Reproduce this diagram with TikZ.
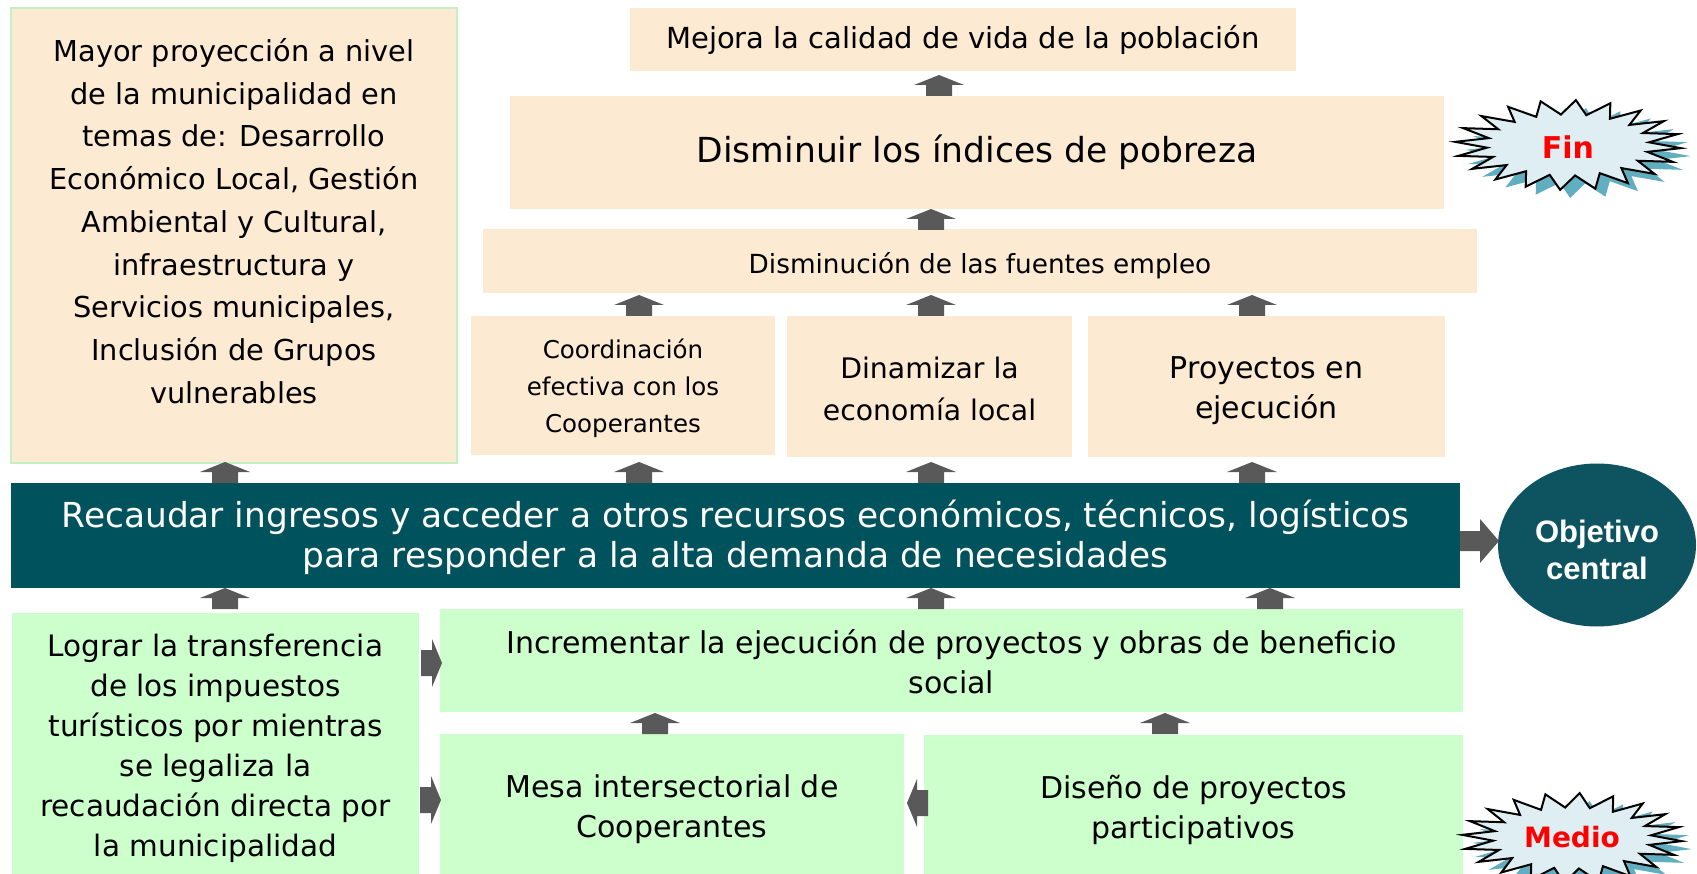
\documentclass[tikz,border=0pt]{standalone}
\usepackage{fontspec}
\setmainfont{DejaVu Sans}
\newfontfamily\arialf{Liberation Sans}
\newfontfamily\dejavu{DejaVu Sans}
\usetikzlibrary{calc,shapes.geometric}
\definecolor{peach}{RGB}{253,234,211}
\definecolor{mint}{RGB}{204,255,204}
\definecolor{mintline}{RGB}{196,240,196}
\definecolor{tealband}{RGB}{0,82,92}
\definecolor{tealoval}{RGB}{14,84,96}
\definecolor{arrowgray}{RGB}{89,89,89}
\definecolor{starfill}{RGB}{222,238,242}
\definecolor{starshadow}{RGB}{96,174,192}
\newcommand{\fs}[2]{\fontsize{#1}{#2}\selectfont}
\tikzset{
  box/.style={inner sep=0pt, outer sep=0pt, align=center, text=black},
  peachbox/.style={box, fill=peach},
  greenbox/.style={box, fill=mint},
  txt/.style={inner sep=0pt, align=center},
  uparr/.pic={\fill[arrowgray] (0,0) -- (25,10) -- (13,10) -- (13,21) -- (-13,21) -- (-13,10) -- (-25,10) -- cycle;},
  rightarr/.pic={\fill[arrowgray] (0,0) -- (-10,-24) -- (-10,-13) -- (-21,-13) -- (-21,13) -- (-10,13) -- (-10,24) -- cycle;},
  leftarr/.pic={\fill[arrowgray] (0,0) -- (10,-24) -- (10,-13) -- (21,-13) -- (21,13) -- (10,13) -- (10,24) -- cycle;},
  bigrightarr/.pic={\fill[arrowgray] (0,0) -- (-19,-22) -- (-19,-10) -- (-39,-10) -- (-39,10) -- (-19,10) -- (-19,22) -- cycle;},
}
\begin{document}
\begin{tikzpicture}[x=1pt,y=-1pt]
\useasboundingbox (0,0) rectangle (1697,874);
\fill[white] (0,0) rectangle (1697,874);

% ---- upper (peach) boxes ----
\node[peachbox, draw=mintline, line width=2pt, minimum width=446pt, minimum height=455pt] (mayor) at (234,235.5) {};
\node[txt, font=\fs{28.8}{42.7}] (mayortxt) at ([yshift=14.5pt]mayor.center) {Mayor proyección a nivel\\ de la municipalidad en\\ temas de: Desarrollo\\ Económico Local, Gestión\\ Ambiental y Cultural,\\ infraestructura y\\ Servicios municipales,\\ Inclusión de Grupos\\ vulnerables};

\node[peachbox, font=\fs{29}{36}, minimum width=666pt, minimum height=63pt] (mejora) at (963,39.5) {Mejora la calidad de vida de la población};
\node[peachbox, font=\fs{34.5}{42}, minimum width=934pt, minimum height=113pt] (pobreza) at (977,152.5) {Disminuir los índices de pobreza};
\node[peachbox, minimum width=994pt, minimum height=64pt] (empleo) at (980,261) {};
\node[txt, font=\fs{26.3}{34}] (empleotxt) at ([yshift=-5pt]empleo.center) {Disminución de las fuentes empleo};
\node[peachbox, minimum width=304pt, minimum height=139pt] (coord) at (623,385.5) {};
\node[txt, font=\fs{24.5}{37}] (coordtxt) at ([yshift=-2.7pt]coord.center) {Coordinación\\ efectiva con los\\ Cooperantes};
\node[peachbox, minimum width=285pt, minimum height=141pt] (dinam) at (929.5,386.5) {};
\node[txt, font=\fs{28.3}{42}] (dinamtxt) at ([yshift=-2.7pt]dinam.center) {Dinamizar la\\ economía local};
\node[peachbox, minimum width=357pt, minimum height=141pt] (proy) at (1266.5,386.5) {};
\node[txt, font=\fs{30}{40}] (proytxt) at ([yshift=-4.5pt]proy.center) {Proyectos en\\ ejecución};

% ---- central band ----
\node[box, fill=tealband, minimum width=1449pt, minimum height=105pt] (band) at (735.5,535.5) {};
\node[txt, text=white, font=\fs{34.4}{40}] (bandtxt) at ([yshift=-2.2pt]band.center) {Recaudar ingresos y acceder a otros recursos económicos, técnicos, logísticos\\ para responder a la alta demanda de necesidades};
\begin{scope}
\clip (0,0) rectangle (1697,874);
\node[ellipse, fill=tealoval, minimum width=198pt, minimum height=163pt, inner sep=0pt] (obj) at (1597,545) {};
\end{scope}
\node[txt, text=white, font=\arialf\bfseries\fs{31}{37}] (objtxt) at ([yshift=-5pt]obj.center) {Objetivo\\ central};

% ---- lower (green) boxes ----
\node[greenbox, minimum width=407pt, minimum height=261pt] (lograr) at (215.5,743.5) {};
\node[txt, font=\fs{29.5}{40}] (lograrttxt) at ([yshift=-4.5pt]lograr.center) {Lograr la transferencia\\ de los impuestos\\ turísticos por mientras\\ se legaliza la\\ recaudación directa por\\ la municipalidad};
\node[greenbox, minimum width=1023pt, minimum height=103pt] (increm) at (951.5,660.5) {};
\node[txt, font=\fs{30}{40}] (incremtxt) at ([yshift=-1.6pt]increm.center) {Incrementar la ejecución de proyectos y obras de beneficio\\ social};
\node[greenbox, minimum width=464pt, minimum height=140pt] (mesa) at (672,804) {};
\node[txt, font=\fs{30}{40}] (mesatxt) at ([yshift=-5pt]mesa.center) {Mesa intersectorial de\\ Cooperantes};
\node[greenbox, minimum width=539pt, minimum height=139pt] (diseno) at (1193.5,804.5) {};
\node[txt, font=\fs{30}{40}] (disenotxt) at ([yshift=-5pt]diseno.center) {Diseño de proyectos\\ participativos};

% ---- block arrows ----
\pic at (939,75) {uparr};
\pic at (931,209) {uparr};
\pic at (639,295) {uparr};
\pic at (931,295) {uparr};
\pic at (1252,295) {uparr};
\pic at (225,462) {uparr};
\pic at (639,462) {uparr};
\pic at (931,462) {uparr};
\pic at (1252,462) {uparr};
\pic at (225,588) {uparr};
\pic at (931,588) {uparr};
\pic at (1270,588) {uparr};
\pic at (655,713) {uparr};
\pic at (1165,713) {uparr};
\pic at (442,663) {rightarr};
\pic at (441,800) {rightarr};
\pic at (907,803) {leftarr};
\pic at (1499,541) {bigrightarr};

% ---- starbursts ----
\begin{scope}
\clip (0,0) rectangle (1697,874);
\fill[starshadow] plot[samples at={0,9,...,351}] ({1578+113*(0.86+0.14*cos(20*\x))*cos(\x+4)}, {153+45*(0.84+0.16*cos(20*\x))*sin(\x+4)}) -- cycle;
\draw[fill=starfill, line width=2pt, line join=miter] plot[samples at={0,9,...,351}] ({1568+113*(0.86+0.14*cos(20*\x))*cos(\x+4)}, {145+45*(0.84+0.16*cos(20*\x))*sin(\x+4)}) -- cycle;
\fill[starshadow] plot[samples at={0,9,...,351}] ({1582+110*(0.86+0.14*cos(20*\x))*cos(\x+4)}, {846+45*(0.84+0.16*cos(20*\x))*sin(\x+4)}) -- cycle;
\draw[fill=starfill, line width=2pt, line join=miter] plot[samples at={0,9,...,351}] ({1572+110*(0.86+0.14*cos(20*\x))*cos(\x+4)}, {838+45*(0.84+0.16*cos(20*\x))*sin(\x+4)}) -- cycle;
\end{scope}
\node[txt, text=red, font=\dejavu\bfseries\fs{30}{36}] (fin) at (1568,147) {Fin};
\node[txt, text=red, font=\dejavu\bfseries\fs{28}{34}] (medio) at (1572,837) {Medio};
\end{tikzpicture}
\end{document}
